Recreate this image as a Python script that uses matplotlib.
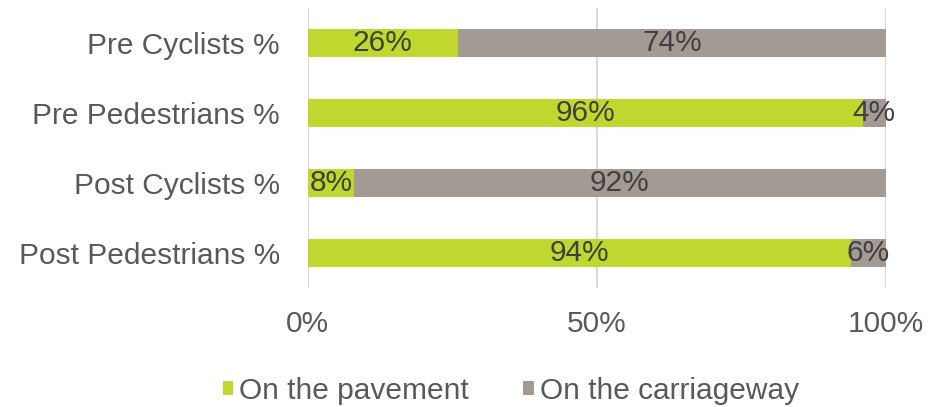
import matplotlib.pyplot as plt
import numpy as np

plt.rcParams['font.family'] = ['Liberation Sans', 'DejaVu Sans']

categories = ["Pre Cyclists %", "Pre Pedestrians %", "Post Cyclists %", "Post Pedestrians %"]
pavement = [26, 96, 8, 94]
carriageway = [74, 4, 92, 6]
series_names = ["On the pavement", "On the carriageway"]
colors = ["#c0d72f", "#a39a93"]
ticks = [0, 50, 100]
tick_labels = ["0%", "50%", "100%"]

fs = 21.5

fig = plt.figure(figsize=(9.44, 4.07), dpi=100)
ax = fig.add_axes([0.326, 0.292, 0.6125, 0.688])

y = np.arange(len(categories))
h = 0.4
b1 = ax.barh(y, pavement, height=h, color=colors[0], label=series_names[0], zorder=2)
b2 = ax.barh(y, carriageway, left=pavement, height=h, color=colors[1], label=series_names[1], zorder=2)

for bars, vals, lefts in [(b1, pavement, [0] * 4), (b2, carriageway, pavement)]:
    for bar, v, l in zip(bars, vals, lefts):
        ax.text(l + v / 2, bar.get_y() + h / 2, f"{v}%", ha='center', va='center',
                fontsize=fs, color='#404040', zorder=3)

ax.set_xlim(0, 100)
ax.set_ylim(len(categories) - 0.5, -0.5)
ax.set_xticks(ticks)
ax.set_xticklabels(tick_labels)
ax.set_yticks(y)
ax.set_yticklabels(categories)
ax.tick_params(axis='both', length=0, labelsize=fs, labelcolor='#595959')
ax.tick_params(axis='x', pad=16)
ax.tick_params(axis='y', pad=20)
ax.grid(axis='x', color='#d9d9d9', linewidth=1.5, zorder=0)
for s in ax.spines.values():
    s.set_visible(False)

fig.legend(handles=[b1, b2], loc='lower center', bbox_to_anchor=(0.541, -0.06), ncol=2,
           frameon=False, fontsize=fs, labelcolor='#595959', handlelength=0.36,
           handleheight=0.36, handletextpad=0.2, columnspacing=1.8)

fig.savefig("out.png", dpi=100)
